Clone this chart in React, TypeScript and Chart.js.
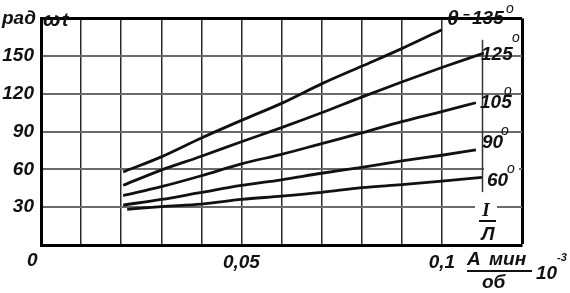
import React, { useEffect, useRef } from 'react';
import { Chart, registerables } from 'chart.js';
Chart.register(...registerables);

// ---- data ----
const x135 = [0.0205, 0.03, 0.04, 0.05, 0.06, 0.07, 0.08, 0.09, 0.1];
const y135 = [58, 70, 85, 99, 112.5, 128, 142, 156, 171];
const x125 = [0.0205, 0.03, 0.04, 0.05, 0.06, 0.07, 0.08, 0.09, 0.1, 0.1105];
const y125 = [47.5, 59.5, 70.5, 82, 93.2, 105, 117.5, 129.5, 141, 152.5];
const x105 = [0.0205, 0.03, 0.04, 0.05, 0.06, 0.07, 0.08, 0.09, 0.1, 0.1085];
const y105 = [39.2, 46.3, 55, 64.5, 72, 80.5, 89, 98, 106, 113];
const x90 = [0.0205, 0.03, 0.04, 0.05, 0.06, 0.07, 0.08, 0.09, 0.1, 0.1085];
const y90 = [31.7, 36.2, 41.8, 47.3, 51.8, 57, 61.7, 66.8, 71.3, 75.5];
const x60 = [0.0215, 0.03, 0.04, 0.05, 0.06, 0.07, 0.08, 0.09, 0.1, 0.11];
const y60 = [28.3, 30.5, 32.5, 36.2, 38.8, 41.8, 45.5, 48, 50.8, 53.8];
const thetaNames = ['135', '125', '105', '90', '60'];

const yTickValues = [30, 60, 90, 120, 150];
const yTickLabels = ['30', '60', '90', '120', '150'];
const xTickValues = [0.05, 0.1];
const xTickLabels = ['0,05', '0,1'];

const SANS = "'Liberation Sans', Arial, sans-serif";
const SERIF = "'Liberation Serif', 'Times New Roman', serif";

const pts = (xs: number[], ys: number[]) => xs.map((v, i) => ({ x: v, y: ys[i] }));

function txt(ctx: CanvasRenderingContext2D, s: string, x: number, y: number, font: string, align: CanvasTextAlign = 'left') {
  ctx.font = font;
  ctx.textAlign = align;
  ctx.textBaseline = 'alphabetic';
  ctx.fillStyle = '#111';
  ctx.fillText(s, x, y);
}

const annotate = {
  id: 'annotate',
  beforeDatasetsDraw(chart: any) {
    const { ctx, scales } = chart;
    const xs = scales.x, ys = scales.y;
    const px = Math.round(xs.getPixelForValue(0.11)) + 0.5;
    ctx.save();
    ctx.strokeStyle = '#333';
    ctx.lineWidth = 1.5;
    ctx.beginPath();
    ctx.moveTo(px, ys.getPixelForValue(163));
    ctx.lineTo(px, ys.getPixelForValue(42));
    ctx.stroke();
    ctx.restore();
  },
  afterDraw(chart: any) {
    const ctx: CanvasRenderingContext2D = chart.ctx;
    ctx.save();
    // white patches where the drawing leaves the grid blank
    ctx.fillStyle = '#fff';
    ctx.fillRect(484, 152, 35, 34);
    ctx.fillRect(475, 198, 22, 18);

    const it = `italic bold 19px ${SANS}`;
    const sup = `italic 14px ${SANS}`;
    // axis captions
    txt(ctx, 'рад', 2, 24, it);
    txt(ctx, 'ω', 43, 26, `italic bold 21px ${SANS}`);
    txt(ctx, 't', 62, 26, it);
    txt(ctx, '0', 27, 266, it);

    // theta labels
    txt(ctx, 'θ', 447, 25, `italic bold 21px ${SANS}`);
    txt(ctx, '=', 463, 21, `bold 12px ${SANS}`);
    txt(ctx, thetaNames[0], 472, 24, it);
    txt(ctx, 'o', 506, 13, sup);

    txt(ctx, thetaNames[1], 481, 60, it);
    txt(ctx, 'o', 512, 42, sup);
    txt(ctx, thetaNames[2], 480, 108, it);
    txt(ctx, 'o', 504, 95, sup);
    txt(ctx, thetaNames[3], 482, 148, it);
    txt(ctx, 'o', 501, 135, sup);
    txt(ctx, thetaNames[4], 487, 186, it);
    txt(ctx, 'o', 507, 173, sup);

    // I / Л
    txt(ctx, 'I', 486, 216, `italic bold 19px ${SERIF}`, 'center');
    ctx.fillStyle = '#111';
    ctx.fillRect(479, 220, 17, 2);
    txt(ctx, 'Л', 488, 240, it, 'center');

    // units A мин / об 10^-3
    txt(ctx, 'A', 467, 265, it);
    txt(ctx, 'мин', 489, 265, it);
    ctx.fillStyle = '#111';
    ctx.fillRect(467, 270, 65, 2);
    txt(ctx, 'об', 482, 288, it);
    txt(ctx, '10', 536, 279, it);
    txt(ctx, '-3', 557, 261, `italic bold 11px ${SANS}`);
    ctx.restore();
  },
};

export default function App() {
  const ref = useRef<HTMLCanvasElement>(null);
  useEffect(() => {
    if (!ref.current) return;
    const lineDs = (xs: number[], ys: number[], label: string) => ({
      label,
      data: pts(xs, ys),
      borderColor: '#111',
      borderWidth: 2.8,
      pointRadius: 0,
      fill: false,
      tension: 0.3,
      cubicInterpolationMode: 'monotone' as const,
    });
    const tickFont = { family: SANS, style: 'italic' as const, weight: 'bold' as const, size: 19 };
    const chart = new Chart(ref.current, {
      type: 'line',
      data: {
        datasets: [
          lineDs(x135, y135, 'θ=' + thetaNames[0]),
          lineDs(x125, y125, thetaNames[1]),
          lineDs(x105, y105, thetaNames[2]),
          lineDs(x90, y90, thetaNames[3]),
          lineDs(x60, y60, thetaNames[4]),
        ],
      },
      options: {
        responsive: false,
        animation: false,
        layout: { padding: { top: 4, right: 48, left: 0, bottom: 0 } },
        plugins: { legend: { display: false }, tooltip: { enabled: false } },
        scales: {
          x: {
            type: 'linear',
            min: 0,
            max: 0.12,
            afterFit: (s: any) => { s.height = 48; },
            ticks: {
              stepSize: 0.01,
              autoSkip: false,
              maxRotation: 0,
              padding: 6,
              color: '#111',
              font: tickFont,
              callback: (v: any) => {
                const i = xTickValues.findIndex((t) => Math.abs(t - Number(v)) < 1e-6);
                return i >= 0 ? xTickLabels[i] : '';
              },
            },
            grid: {
              drawTicks: false,
              color: (c: any) => (Math.abs(c.tick?.value - 0.11) < 1e-6 ? 'rgba(0,0,0,0)' : c.index === 12 ? '#000' : '#2a2a2a'),
              lineWidth: (c: any) => (c.index === 12 ? 3 : 1.5),
            },
            border: { display: true, color: '#000', width: 3 },
          },
          y: {
            type: 'linear',
            min: 0,
            max: 180,
            afterFit: (s: any) => { s.width = 41; },
            ticks: {
              stepSize: 30,
              padding: 7,
              color: '#111',
              font: tickFont,
              callback: (v: any) => {
                const i = yTickValues.indexOf(Math.round(Number(v)));
                return i >= 0 ? yTickLabels[i] : '';
              },
            },
            grid: {
              drawTicks: false,
              color: (c: any) => (c.index === 6 ? '#000' : '#6a6a6a'),
              lineWidth: (c: any) => (c.index === 6 ? 3 : 2),
            },
            border: { display: true, color: '#000', width: 3 },
          },
        },
      },
      plugins: [annotate],
    });
    return () => chart.destroy();
  }, []);
  return (
    <div style={{ position: 'absolute', left: 0, top: 0, width: 570, height: 293, background: '#fff' }}>
      <canvas ref={ref} width={570} height={293} style={{ display: 'block' }} />
    </div>
  );
}
